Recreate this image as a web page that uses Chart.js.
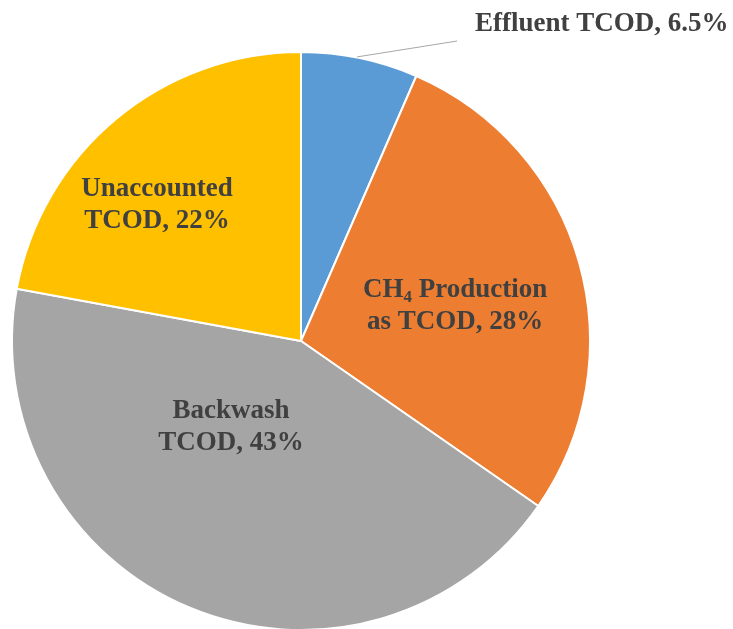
<!DOCTYPE html>
<html><head><meta charset="utf-8">
<script src="https://cdn.jsdelivr.net/npm/chart.js@4/dist/chart.umd.min.js"></script>
<style>html,body{margin:0;padding:0;background:#fff;overflow:hidden;}#wrap{width:733px;height:629px;position:relative;overflow:hidden;}</style>
</head><body><div id="wrap"><canvas id="c" width="733" height="640"></canvas></div>
<script>
const categories = ["Effluent TCOD", "CH4 Production as TCOD", "Backwash TCOD", "Unaccounted TCOD"];
const values = [6.5, 28, 43, 22];
const valueLabels = ["6.5%", "28%", "43%", "22%"];
const colors = ["#5B9BD5", "#ED7D31", "#A5A5A5", "#FFC000"];

// label placement relative to pie center, in units of radius
const labelPos = [
  {fx: 0.602, fy: -1.097, align: 'left', leader: [[0.194, -0.983], [0.540, -1.038]]},
  {fx: 0.533, fy: -0.121, align: 'center'},
  {fx: -0.242, fy: 0.298, align: 'center'},
  {fx: -0.498, fy: -0.471, align: 'center'}
];
// lines of each label: arrays of segments [text, subscript?]
const labelLines = [
  [[["Effluent TCOD, " + valueLabels[0], false]]],
  [[["CH", false], ["4", true], [" Production", false]], [["as TCOD, " + valueLabels[1], false]]],
  [[["Backwash", false]], [["TCOD, " + valueLabels[2], false]]],
  [[["Unaccounted", false]], [["TCOD, " + valueLabels[3], false]]]
];

const FONT = 'bold 27px "Liberation Serif", "Times New Roman", serif';
const SUBFONT = 'bold 17px "Liberation Serif", "Times New Roman", serif';

const labelPlugin = {
  id: 'pieLabels',
  afterDatasetsDraw(chart) {
    const ctx = chart.ctx;
    const meta = chart.getDatasetMeta(0);
    const arc0 = meta.data[0];
    const cx = arc0.x, cy = arc0.y, r = arc0.outerRadius;
    ctx.save();
    ctx.fillStyle = '#404040';
    ctx.textBaseline = 'middle';
    const lh = 32;
    labelLines.forEach((lines, i) => {
      const p = labelPos[i];
      const x0 = cx + p.fx * r, y0 = cy + p.fy * r;
      if (p.leader) {
        ctx.strokeStyle = '#A6A6A6';
        ctx.lineWidth = 1;
        ctx.beginPath();
        ctx.moveTo(cx + p.leader[0][0] * r, cy + p.leader[0][1] * r);
        ctx.lineTo(cx + p.leader[1][0] * r, cy + p.leader[1][1] * r);
        ctx.stroke();
      }
      const n = lines.length;
      lines.forEach((segs, li) => {
        const y = y0 + (li - (n - 1) / 2) * lh;
        let w = 0;
        segs.forEach(([t, sub]) => { ctx.font = sub ? SUBFONT : FONT; w += ctx.measureText(t).width; });
        let x = p.align === 'left' ? x0 : x0 - w / 2;
        ctx.textAlign = 'left';
        segs.forEach(([t, sub]) => {
          ctx.font = sub ? SUBFONT : FONT;
          ctx.fillText(t, x, sub ? y + 8 : y);
          x += ctx.measureText(t).width;
        });
      });
    });
    ctx.restore();
  }
};

new Chart(document.getElementById('c'), {
  type: 'pie',
  data: {
    labels: categories,
    datasets: [{ data: values, backgroundColor: colors, borderColor: '#FFFFFF', borderWidth: 2 }]
  },
  options: {
    responsive: false,
    animation: false,
    layout: { padding: { left: 11, right: 142, top: 51, bottom: 9 } },
    plugins: { legend: { display: false }, tooltip: { enabled: false } }
  },
  plugins: [labelPlugin]
});
</script></body></html>
